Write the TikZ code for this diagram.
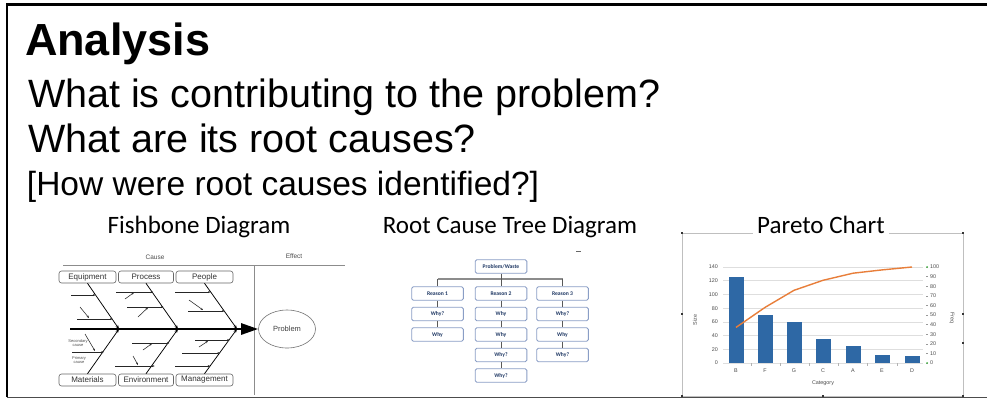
\documentclass[tikz,border=0pt]{standalone}
\usepackage{fontspec}
\setmainfont{Liberation Sans}
\newfontfamily\calfont{Carlito}
\usetikzlibrary{arrows.meta,shapes.geometric}
\definecolor{barblue}{RGB}{46,104,165}
\definecolor{lineorange}{RGB}{232,126,58}
\definecolor{treeedge}{RGB}{138,158,198}
\definecolor{treetext}{RGB}{31,56,100}
\definecolor{gridgray}{RGB}{222,222,222}
\begin{document}
\begin{tikzpicture}[x=1pt,y=-1pt,
  txt/.style={inner sep=0pt, outer sep=0pt},
  fbbox/.style={draw=black!60, rounded corners=2.5pt, line width=0.6pt, minimum height=12pt, inner sep=0pt, font=\fontsize{8}{8}\selectfont, text=black!80},
  bone/.style={line width=0.75pt, -{Stealth[length=4pt,width=3pt]}},
  subarr/.style={line width=0.55pt, black!85, -{Stealth[length=2.5pt,width=2pt]}},
  tbox/.style={draw=treeedge, line width=0.9pt, rounded corners=1.5pt, minimum width=51.6pt, minimum height=13.5pt, inner sep=0pt, text=treetext, font=\calfont\bfseries\fontsize{5.6}{5.6}\selectfont},
  tlink/.style={line width=0.6pt, black!65},
  axlab/.style={inner sep=0pt, font=\fontsize{5.4}{5.4}\selectfont, text=black!70},
  title/.style={inner sep=0pt, font=\calfont\fontsize{25}{25}\selectfont}]
\useasboundingbox (0,0) rectangle (987,400);
\fill[white] (0,0) rectangle (987,400);
% outer frame
\draw[line width=2.2pt] (7,397) -- (7,4.5) -- (987,4.5);
\draw[line width=1.5pt, black!70] (7,397.5) -- (987,397.5);
% heading text
\node[txt, anchor=base west, font=\fontsize{45}{45}\selectfont\bfseries] (h0) at (25,55) {Analysis};
\node[txt, anchor=base west, font=\fontsize{39.5}{40}\selectfont] (h1) at (28,107) {What is contributing to the problem?};
\node[txt, anchor=base west, font=\fontsize{39.5}{40}\selectfont] (h2) at (28,152) {What are its root causes?};
\node[txt, anchor=base west, font=\fontsize{33.5}{34}\selectfont] (h3) at (27,195) {[How were root causes identified?]};
% titles
\node[title, anchor=base] (t1) at (199,233) {Fishbone Diagram};
\node[title, anchor=base] (t2) at (510,233) {Root Cause Tree Diagram};
% ---------------- Fishbone ----------------
\draw[black!45, line width=0.6pt] (63,265) -- (345,265);
\draw[black!45, line width=0.6pt] (254,265) -- (254,395);
\node[axlab, font=\fontsize{6.5}{6.5}\selectfont] (cause) at (155,257) {Cause};
\node[axlab, font=\fontsize{6.5}{6.5}\selectfont] (effect) at (294,256) {Effect};
\node[fbbox, minimum width=57pt] (eq) at (87.5,277) {Equipment};
\node[fbbox, minimum width=55pt] (pr) at (146,277) {Process};
\node[fbbox, minimum width=57pt] (pe) at (204.5,277) {People};
\node[fbbox, minimum width=57pt] (ma) at (87.5,380) {Materials};
\node[fbbox, minimum width=55pt] (en) at (146,380) {Environment};
\node[fbbox, minimum width=57pt] (mg) at (204.5,380) {Management};
\node[ellipse, draw=black!55, line width=0.6pt, minimum width=57pt, minimum height=38pt, inner sep=0pt, font=\fontsize{7.5}{7.5}\selectfont, text=black!75] (prob) at (287,329) {Problem};
\coordinate (tail) at (70,329);
\coordinate (j1) at (119,329);
\coordinate (j2) at (178,329);
\coordinate (j3) at (237,329);
\draw[line width=2.6pt, -{Triangle[length=17pt,width=11pt]}] (tail) -- (prob.west);
\draw[bone] (eq.south) -- (j1);
\draw[bone] (pr.south) -- (j2);
\draw[bone] (pe.south) -- (j3);
\draw[bone] (ma.north) -- (j1);
\draw[bone] (en.north) -- (j2);
\draw[bone] (mg.north) -- (j3);
% primary causes
\draw[subarr] (71,295) -- (95.5,295);
\draw[subarr] (77,319) -- (112.6,319);
\draw[subarr] (116,292) -- (153.2,292);
\draw[subarr] (127,307) -- (163.5,307);
\draw[subarr] (175,292) -- (210.6,292);
\draw[subarr] (188,311) -- (224.5,311);
\draw[subarr] (72,352) -- (103.8,352);
\draw[subarr] (132,343) -- (169.5,343);
\draw[subarr] (115,366) -- (154.6,366);
\draw[subarr] (195,340) -- (229.6,340);
\draw[subarr] (182,353) -- (219.9,353);
\draw[subarr] (175,366) -- (210.2,366);
% secondary causes
\draw[subarr] (80,307) -- (89,318);
\draw[subarr] (125,299) -- (134,292.5);
\draw[subarr] (138,317) -- (148,307.5);
\draw[subarr] (189,300) -- (203,310);
\draw[subarr] (85,334) -- (95,351);
\draw[subarr] (143,350) -- (152,343.5);
\draw[subarr] (133,356) -- (138,365);
\draw[subarr] (199,347) -- (208,341);
\node[axlab, font=\fontsize{4}{4.6}\selectfont, align=center] (sec) at (78,343) {Secondary\\cause};
\node[axlab, font=\fontsize{4}{4.6}\selectfont, align=center] (prim) at (79,360) {Primary\\cause};
% ---------------- Root cause tree ----------------
\node[tbox] (pw) at (501,266.5) {Problem/Waste};
\node[tbox] (r1) at (437.5,293.5) {Reason 1};
\node[tbox] (r2) at (501,293.5) {Reason 2};
\node[tbox] (r3) at (562.5,293.5) {Reason 3};
\node[tbox] (a2) at (437.5,314) {Why?};
\node[tbox] (b2) at (501,314) {Why};
\node[tbox] (c2) at (562.5,314) {Why?};
\node[tbox] (a3) at (437.5,334.5) {Why};
\node[tbox] (b3) at (501,334.5) {Why};
\node[tbox] (c3) at (562.5,334.5) {Why};
\node[tbox] (b4) at (501,355) {Why?};
\node[tbox] (c4) at (562.5,355) {Why?};
\node[tbox] (b5) at (501,375.5) {Why?};
\draw[black!45, line width=1.6pt] (r1.north) ++(0,-7.5) -- ++(125,0);
\draw[tlink] (pw.south) -- (r2.north);
\draw[tlink] (r1.north) -- ++(0,-7.5);
\draw[tlink] (r3.north) -- ++(0,-7.5);
\draw[tlink] (r1.south) -- (a2.north);
\draw[tlink] (a2.south) -- (a3.north);
\draw[tlink] (r2.south) -- (b2.north);
\draw[tlink] (b2.south) -- (b3.north);
\draw[tlink] (b3.south) -- (b4.north);
\draw[tlink] (b4.south) -- (b5.north);
\draw[tlink] (r3.south) -- (c2.north);
\draw[tlink] (c2.south) -- (c3.north);
\draw[tlink] (c3.south) -- (c4.north);
\draw[black!60, line width=0.8pt] (576,251.5) -- (581,251.5);
% ---------------- Pareto chart ----------------
\draw[black!25, line width=0.6pt] (682,233) rectangle (963,396);
\foreach \p in {(682,233),(682,314),(682,396),(823,396),(963,396),(963,314),(963,343),(963,233)}
  \fill[black!80] \p ++(-0.9,-0.9) rectangle ++(1.8,1.8);
\node[title, anchor=base, fill=white, inner xsep=4pt, inner ysep=2pt] (t3) at (821,233) {Pareto Chart};
\foreach \v [count=\i from 0] in {0,20,40,60,80,100,120,140} {
  \draw[gridgray, line width=0.5pt] (723,{363-\v*96/140}) -- (923,{363-\v*96/140});
  \node[axlab, anchor=east] at (718,{363-\v*96/140}) {\v};
}
\foreach \v in {0,10,...,100} {
  \draw[black!40, line width=0.4pt] (926,{363-\v*0.96}) -- (928,{363-\v*0.96});
  \node[axlab, anchor=west] at (930,{363-\v*0.96}) {\v};
}
\fill[green!60!black!70] (927,363) circle (1pt);
\fill[green!60!black!70] (927,267) circle (1pt);
\foreach \x/\v/\c in {736/125/B, 765/70/F, 794/60/G, 823/35/C, 853/25/A, 882/12/E, 912/10/D} {
  \fill[barblue] ({\x-7.5},363) rectangle ({\x+7.5},{363-\v*96/140});
  \node[axlab] at (\x,371) {\c};
}
\foreach \x in {751,780,809,838,867,897} \draw[black!30, line width=0.4pt] (\x,363) -- (\x,366);
\draw[lineorange, line width=1.4pt, line join=round] (736,327.4) -- (765,307.4) -- (794,290.3) -- (823,280.3) -- (853,273.2) -- (882,269.9) -- (912,267);
\node[axlab] (catl) at (823,383) {Category};
\node[axlab, rotate=90] (sizel) at (695,320) {Size};
\node[axlab, rotate=-90] (freql) at (952,318) {Freq};
\end{tikzpicture}
\end{document}
